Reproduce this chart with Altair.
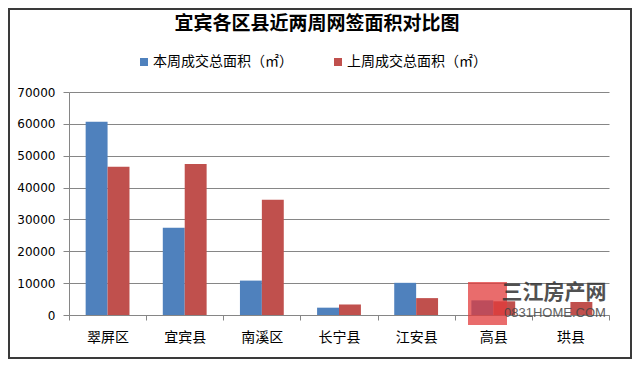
import altair as alt
import pandas as pd

# ---- data ----
categories = ["翠屏区", "宜宾县", "南溪区", "长宁县", "江安县", "高县", "珙县"]
this_week = [60700, 27400, 10800, 2300, 10100, 4600, 0]
last_week = [46500, 47400, 36200, 3300, 5300, 4300, 4100]
series = ["本周成交总面积（㎡）", "上周成交总面积（㎡）"]
colors = ["#4F81BD", "#C0504D"]
y_ticks = [0, 10000, 20000, 30000, 40000, 50000, 60000, 70000]
title_text = "宜宾各区县近两周网签面积对比图"
wm_name = "三江房产网"
wm_site = "0831HOME.COM"

rows = []
for c, a, b in zip(categories, this_week, last_week):
    rows.append({"区县": c, "系列": series[0], "面积": a})
    rows.append({"区县": c, "系列": series[1], "面积": b})
df = pd.DataFrame(rows)

CJK = "Noto Sans CJK SC"
GRAY = "#868686"
W, H = 540, 223
PL, PT, PR, PB = 61, 84, 23, 44

bars = alt.Chart(df).mark_bar().encode(
    x=alt.X(
        "区县:N", sort=categories, title=None,
        scale=alt.Scale(paddingInner=0, paddingOuter=0),
        axis=alt.Axis(
            tickBand="extent", labelAngle=0, labelFont=CJK, labelFontSize=14,
            labelColor="#000000", tickSize=5, tickColor=GRAY, domainColor=GRAY,
            labelPadding=10, grid=False,
        ),
    ),
    xOffset=alt.XOffset(
        "系列:N", sort=series,
        scale=alt.Scale(domain=series, paddingInner=0, paddingOuter=0.76),
    ),
    y=alt.Y(
        "面积:Q", title=None,
        scale=alt.Scale(domain=[0, 70000], nice=False),
        axis=alt.Axis(
            values=y_ticks, format="d", labelFont="DejaVu Sans", labelFontSize=12,
            labelColor="#000000", tickSize=6, tickColor=GRAY, domainColor=GRAY,
            gridColor=GRAY, gridWidth=1, labelPadding=8,
        ),
    ),
    color=alt.Color(
        "系列:N", sort=series,
        scale=alt.Scale(domain=series, range=colors),
        legend=alt.Legend(
            title=None, orient="none", legendX=68, legendY=-37,
            direction="horizontal", columns=2, symbolType="square",
            symbolSize=64, symbolStrokeWidth=0, labelFont=CJK, labelFontSize=14,
            labelColor="#000000", columnPadding=38, labelOffset=2,
        ),
    ),
)

one = pd.DataFrame({"k": [0]})

title = alt.Chart(one).mark_text(
    text=title_text, font=CJK, fontSize=19, fontWeight="bold", color="#000000",
    align="center", baseline="middle",
).encode(x=alt.value(248), y=alt.value(-68))

wm_logo = alt.Chart(one).mark_rect(color="#E23B3B", opacity=0.75).encode(
    x=alt.value(399), x2=alt.value(438), y=alt.value(190), y2=alt.value(233)
)
wm_text1 = alt.Chart(one).mark_text(
    text=wm_name, font=CJK, fontSize=21, fontWeight="bold", color="#333333",
    opacity=0.85, align="center", baseline="middle",
).encode(x=alt.value(485), y=alt.value(201))
wm_text2 = alt.Chart(one).mark_text(
    text=wm_site, font="Liberation Sans", fontSize=13, color="#444444",
    opacity=0.85, align="center", baseline="middle",
).encode(x=alt.value(486), y=alt.value(221))

frame = alt.Chart(one).mark_rect(filled=False, stroke="#3a3a3a", strokeWidth=2).encode(
    x=alt.value(-PL + 1), x2=alt.value(W + PR - 1),
    y=alt.value(-PT + 1), y2=alt.value(H + PB - 1),
)

chart = (
    alt.layer(bars, title, wm_logo, wm_text1, wm_text2, frame)
    .properties(
        width=W, height=H,
        padding={"left": PL, "top": PT, "right": PR, "bottom": PB},
        autosize=alt.AutoSizeParams(type="none"),
        background="#ffffff",
    )
    .configure_view(stroke=None)
)

chart.save("out.html", embed_options={"renderer": "svg", "actions": False})
